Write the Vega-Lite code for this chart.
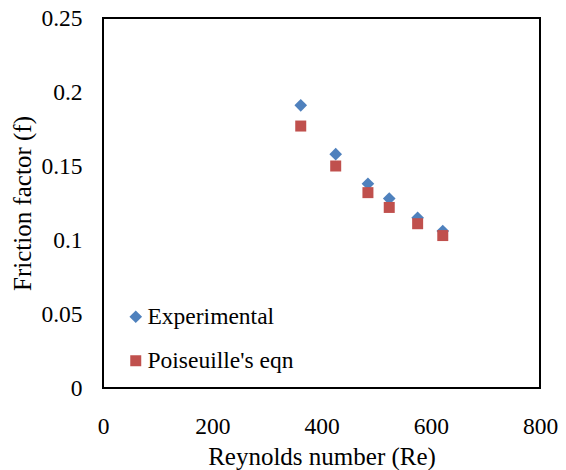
{
  "$schema": "https://vega.github.io/schema/vega-lite/v6.json",
  "width": 437,
  "height": 370,
  "autosize": {"type": "none"},
  "padding": {"left": 103, "top": 18, "right": 26, "bottom": 82},
  "background": "white",
  "view": {"stroke": "black", "strokeWidth": 2},
  "config": {
    "font": "Liberation Serif",
    "axis": {
      "domain": false,
      "ticks": false,
      "grid": false,
      "labelFont": "Liberation Serif",
      "titleFont": "Liberation Serif"
    }
  },
  "data": {
    "values": [
      {"Re": 362, "f": 0.191, "series": "Experimental"},
      {"Re": 426, "f": 0.158, "series": "Experimental"},
      {"Re": 485, "f": 0.138, "series": "Experimental"},
      {"Re": 524, "f": 0.128, "series": "Experimental"},
      {"Re": 576, "f": 0.115, "series": "Experimental"},
      {"Re": 622, "f": 0.106, "series": "Experimental"},
      {"Re": 362, "f": 0.177, "series": "Poiseuille's eqn"},
      {"Re": 426, "f": 0.150, "series": "Poiseuille's eqn"},
      {"Re": 485, "f": 0.132, "series": "Poiseuille's eqn"},
      {"Re": 524, "f": 0.122, "series": "Poiseuille's eqn"},
      {"Re": 576, "f": 0.111, "series": "Poiseuille's eqn"},
      {"Re": 622, "f": 0.103, "series": "Poiseuille's eqn"}
    ]
  },
  "mark": {"type": "point", "filled": true, "opacity": 1},
  "encoding": {
    "x": {
      "field": "Re",
      "type": "quantitative",
      "scale": {"domain": [0, 800], "nice": false, "zero": false},
      "axis": {
        "title": "Reynolds number (Re)",
        "values": [0, 200, 400, 600, 800],
        "labelFont": "Liberation Serif",
        "labelFontSize": 23.5,
        "labelColor": "black",
        "titleFont": "Liberation Serif",
        "titleFontSize": 25,
        "titleFontWeight": "normal",
        "titleColor": "black",
        "labelFlush": false,
        "labelOverlap": false,
        "tickSize": 0,
        "labelPadding": 26,
        "titlePadding": 7
      }
    },
    "y": {
      "field": "f",
      "type": "quantitative",
      "scale": {"domain": [0, 0.25], "nice": false},
      "axis": {
        "title": "Friction factor (f)",
        "values": [0, 0.05, 0.1, 0.15, 0.2, 0.25],
        "format": "~g",
        "labelFont": "Liberation Serif",
        "labelFontSize": 23.5,
        "labelColor": "black",
        "titleFont": "Liberation Serif",
        "titleFontSize": 25,
        "titleFontWeight": "normal",
        "titleColor": "black",
        "labelFlush": false,
        "labelOverlap": false,
        "tickSize": 0,
        "labelPadding": 21,
        "titlePadding": 5
      }
    },
    "color": {
      "field": "series",
      "type": "nominal",
      "scale": {"domain": ["Experimental", "Poiseuille's eqn"], "range": ["#4F81BD", "#C0504D"]},
      "legend": {
        "title": null,
        "orient": "none",
        "legendX": 21,
        "legendY": 287,
        "padding": 0,
        "symbolSize": 130,
        "labelOffset": 0,
        "rowPadding": 19,
        "symbolOpacity": 1,
        "labelFont": "Liberation Serif",
        "labelFontSize": 23.5,
        "labelColor": "black"
      }
    },
    "shape": {
      "field": "series",
      "type": "nominal",
      "scale": {"domain": ["Experimental", "Poiseuille's eqn"], "range": ["diamond", "square"]},
      "legend": {
        "title": null,
        "orient": "none",
        "legendX": 21,
        "legendY": 287,
        "padding": 0,
        "symbolSize": 130,
        "labelOffset": 0,
        "rowPadding": 19,
        "symbolOpacity": 1,
        "labelFont": "Liberation Serif",
        "labelFontSize": 23.5,
        "labelColor": "black"
      }
    },
    "size": {
      "field": "series",
      "type": "nominal",
      "scale": {"domain": ["Experimental", "Poiseuille's eqn"], "range": [160, 121]},
      "legend": null
    }
  }
}
